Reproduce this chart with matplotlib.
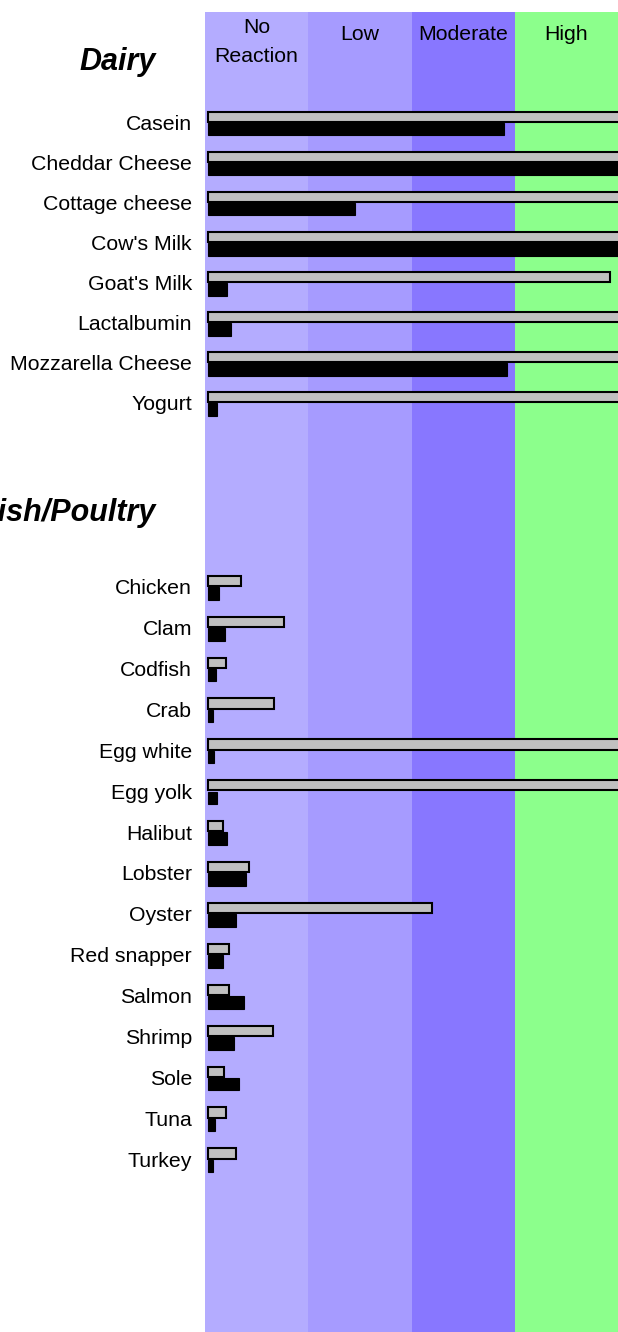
import matplotlib
matplotlib.use("Agg")
import matplotlib.pyplot as plt
from matplotlib.transforms import blended_transform_factory

plt.rcParams['font.family'] = ['Liberation Sans', 'DejaVu Sans']

# ---------------- data ----------------
levels = ["No\nReaction", "Low", "Moderate", "High"]
level_colors = ["#B4ACFF", "#A69BFF", "#8877FF", "#8CFF8C"]

dairy_items = ["Casein", "Cheddar Cheese", "Cottage cheese", "Cow's Milk",
               "Goat's Milk", "Lactalbumin", "Mozzarella Cheese", "Yogurt"]
dairy_gray = [4.2, 4.2, 4.2, 4.2, 3.89, 4.2, 4.2, 4.2]
dairy_black = [2.87, 4.2, 1.42, 4.2, 0.187, 0.22, 2.90, 0.084]

fish_items = ["Chicken", "Clam", "Codfish", "Crab", "Egg white", "Egg yolk",
              "Halibut", "Lobster", "Oyster", "Red snapper", "Salmon",
              "Shrimp", "Sole", "Tuna", "Turkey"]
fish_gray = [0.32, 0.736, 0.174, 0.639, 4.2, 4.2, 0.142, 0.394, 2.17,
             0.206, 0.203, 0.632, 0.152, 0.174, 0.271]
fish_black = [0.104, 0.168, 0.080, 0.048, 0.055, 0.087, 0.184, 0.371, 0.274,
              0.145, 0.349, 0.255, 0.30, 0.065, 0.048]

groups = ["Dairy", "Fish/Poultry"]

# ---------------- layout ----------------
W, H = 618, 1332
fig = plt.figure(figsize=(W / 100, H / 100), dpi=100)

def fx(px):
    return px / W

def fy(px):
    return 1 - px / H

plot_left, plot_right = 205, 618
band_top = 12

# background bands
ax_bg = fig.add_axes([fx(plot_left), 0, fx(plot_right - plot_left), (H - band_top) / H])
ax_bg.set_xlim(0, len(levels))
ax_bg.set_ylim(0, 1)
for i, c in enumerate(level_colors):
    ax_bg.axvspan(i, i + 1, color=c, lw=0)
ax_bg.axis('off')

trans = blended_transform_factory(ax_bg.transData, fig.transFigure)
for i, lab in enumerate(levels):
    lines = lab.split("\n")
    base0 = 40 if len(lines) == 1 else 33
    for k, ln in enumerate(lines):
        ax_bg.text(i + 0.5, fy(base0 + k * 29), ln, transform=trans,
                   ha='center', va='baseline', fontsize=15.3, color='black')

label_fs = 15.3
bar_left = 0.028

def draw_group(items, gray, black, row0_px, spacing, heading, heading_base_px):
    n = len(items)
    top_px = row0_px - 0.5 * spacing
    bot_px = row0_px + (n - 0.5) * spacing
    ax = fig.add_axes([fx(plot_left), fy(bot_px), fx(plot_right - plot_left),
                       (bot_px - top_px) / H])
    ax.patch.set_alpha(0)
    ax.set_xlim(0, len(levels))
    ax.set_ylim(n - 0.5, -0.5)
    ys = list(range(n))
    ax.barh([y - 0.14 for y in ys], gray, height=0.25, left=bar_left,
            color='#C0C0C0', edgecolor='black', linewidth=1.5, zorder=2)
    ax.barh([y + 0.165 for y in ys], black, height=0.31, left=bar_left,
            color='black', edgecolor='black', linewidth=0.8, zorder=3)
    ax.set_yticks(ys)
    ax.set_yticklabels(items, fontsize=label_fs)
    ax.tick_params(axis='y', length=0, pad=9.4)
    ax.set_xticks([])
    for s in ax.spines.values():
        s.set_visible(False)
    fig.text(fx(156), fy(heading_base_px), heading, ha='right', va='baseline',
             fontsize=22, fontweight='bold', fontstyle='italic')
    return ax

draw_group(dairy_items, dairy_gray, dairy_black, 122.5, 40.07, groups[0], 70)
draw_group(fish_items, fish_gray, fish_black, 586.6, 40.9, groups[1], 521.5)

fig.savefig("out.png", dpi=100)
